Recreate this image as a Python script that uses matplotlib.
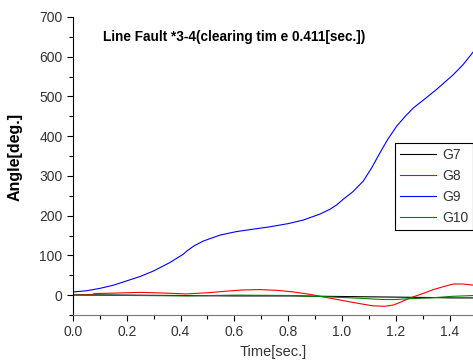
import numpy as np
import matplotlib
matplotlib.use('Agg')
import matplotlib.pyplot as plt
from matplotlib.ticker import MultipleLocator, FormatStrFormatter

plt.rcParams['font.family'] = ['Liberation Sans', 'DejaVu Sans']

# 读图估计的数据
t9 = [0.0, 0.05, 0.1, 0.15, 0.2, 0.25, 0.3, 0.36, 0.41, 0.423, 0.45, 0.484, 0.546,
      0.608, 0.67, 0.732, 0.8, 0.856, 0.918, 0.955, 0.98, 1.004, 1.04, 1.079, 1.11,
      1.141, 1.17, 1.203, 1.235, 1.265, 1.31, 1.352, 1.414, 1.45, 1.49]
g9 = [8, 11, 17, 25, 36, 47, 61, 82, 103, 111, 124, 136, 151,
      160, 166, 172, 180, 189, 204, 216, 227, 241, 260, 287, 320,
      358, 392, 425, 450, 471, 495, 518, 555, 580, 614]

t8 = [0.0, 0.07, 0.08, 0.15, 0.25, 0.35, 0.42, 0.5, 0.57, 0.63, 0.695, 0.76, 0.82,
      0.88, 0.943, 1.03, 1.08, 1.116, 1.16, 1.19, 1.22, 1.25, 1.3, 1.34, 1.38, 1.414, 1.45, 1.49]
g8 = [1, 1, 4, 5, 7, 5, 3, 6, 10, 13, 14, 12, 8,
      2, -6, -17, -23, -27, -28, -25, -17, -8, 4, 14, 22, 28, 28, 25]

t7 = [0.0, 0.2, 0.4, 0.6, 0.82, 0.94, 1.07, 1.2, 1.33, 1.41, 1.49]
g7 = [1, 0, -1, -2, -2, -3, -4, -5, -6, -7, -7]

t10 = [0.0, 0.25, 0.43, 0.6, 0.82, 0.94, 1.07, 1.15, 1.2, 1.25, 1.33, 1.41, 1.49]
g10 = [0, -1, -2, 0, -1, -4, -8, -11, -11, -9, -7, -3, -1]

fig = plt.figure(figsize=(4.73, 3.62), dpi=100)
ax = fig.add_axes([73/473, 1-315/362, 1-73/473, (315-17)/362])

ax.plot(t7, g7, color='black', lw=0.8, label='G7')
ax.plot(t8, g8, color='red', lw=0.8, label='G8')
ax.plot(t9, g9, color='blue', lw=0.8, label='G9')
ax.plot(t10, g10, color='green', lw=0.8, label='G10')

ax.set_xlim(0, 1.487)
ax.set_ylim(-50, 700)
ax.xaxis.set_major_locator(MultipleLocator(0.2))
ax.xaxis.set_minor_locator(MultipleLocator(0.1))
ax.xaxis.set_major_formatter(FormatStrFormatter('%.1f'))
ax.yaxis.set_major_locator(MultipleLocator(100))
ax.yaxis.set_minor_locator(MultipleLocator(50))
ax.tick_params(which='major', direction='out', length=4, width=0.8,
               labelsize=10, labelcolor='#333333')
ax.tick_params(which='minor', direction='out', length=3, width=0.8)
ax.spines['top'].set_visible(False)
ax.spines['right'].set_visible(False)
ax.spines['bottom'].set_color('#777777')

ax.set_xlabel('Time[sec.]', fontsize=10.5, color='#333333')
ax.set_ylabel('Angle[deg.]', fontsize=11.5, fontweight='bold')
ax.yaxis.set_label_coords(-0.125, 0.53)
ax.text(0.075, 0.955, 'Line Fault *3-4(clearing tim e 0.411[sec.])',
        transform=ax.transAxes, fontsize=9.8, fontweight='bold', va='top')

leg = ax.legend(loc='upper right', bbox_to_anchor=(1.0, 0.577), fontsize=10,
                fancybox=False, framealpha=1, edgecolor='black', handlelength=2.6,
                handletextpad=0.4, borderpad=0.35, labelspacing=0.5, borderaxespad=0)
leg.get_frame().set_linewidth(0.8)
for txt in leg.get_texts():
    txt.set_color('#333333')

fig.savefig('out.png', dpi=100)
